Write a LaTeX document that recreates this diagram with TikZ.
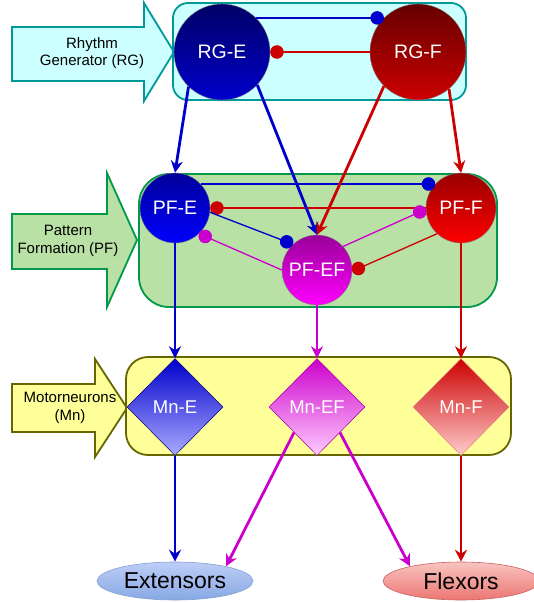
\documentclass[tikz,border=0pt]{standalone}
\usepackage{fontspec}
\setmainfont{Liberation Sans}
\usepackage{tikz}
\usetikzlibrary{shapes.geometric,arrows.meta}
\definecolor{eblue}{RGB}{0,0,204}
\definecolor{fred}{RGB}{204,0,0}
\definecolor{efmag}{RGB}{204,0,204}
\definecolor{rgfill}{RGB}{204,255,255}
\definecolor{rgline}{RGB}{0,153,153}
\definecolor{pffill}{RGB}{185,224,165}
\definecolor{pfline}{RGB}{0,153,76}
\definecolor{mnfill}{RGB}{255,255,153}
\definecolor{mnline}{RGB}{102,102,0}

\begin{document}
\begin{tikzpicture}[x=1pt,y=-1pt,
  cell/.style={circle,draw=black!50,line width=0.4pt,text=white,inner sep=0pt,
    font=\fontsize{19.5}{22}\selectfont},
  mn/.style={diamond,aspect=1,minimum width=96pt,minimum height=97pt,inner sep=0pt,
    line width=0.5pt,text=white,font=\fontsize{18.5}{21}\selectfont},
  musc/.style={ellipse,minimum width=156pt,minimum height=38pt,inner sep=0pt,
    line width=0.6pt,font=\fontsize{23}{26}\selectfont},
  exc/.style={line width=2.8pt,-{Stealth[length=12pt,width=12pt,inset=4pt]}},
  inh/.style={line width=1.3pt,-{Circle[length=13.5pt]}},
  lbl/.style={align=center,font=\fontsize{15}{17.5}\selectfont}]
\useasboundingbox (0,0) rectangle (533,602);

% layers
\draw[line width=1.8pt,draw=rgline,fill=rgfill] (12,27) -- (144,27) -- (144,3) -- (174,52)
  -- (144,101) -- (144,81) -- (12,81) -- cycle;
\draw[line width=1.8pt,draw=rgline,fill=rgfill,rounded corners=15pt] (173,3) rectangle (466,100);
\draw[line width=1.8pt,draw=pfline,fill=pffill] (12,214) -- (107,214) -- (107,173) -- (137,240)
  -- (107,307) -- (107,269) -- (12,269) -- cycle;
\draw[line width=1.8pt,draw=pfline,fill=pffill,rounded corners=30pt] (139,174) rectangle (497,307);
\draw[line width=1.8pt,draw=mnline,fill=mnfill] (12,384) -- (95,384) -- (95,359) -- (127,408)
  -- (95,457) -- (95,432) -- (12,432) -- cycle;
\draw[line width=1.8pt,draw=mnline,fill=mnfill,rounded corners=22pt] (126,357) rectangle (511,455);
\node[lbl] (rglbl) at (92,53) {Rhythm\\Generator (RG)};
\node[lbl] (pflbl) at (68,241) {Pattern\\Formation (PF)};
\node[lbl] (mnlbl) at (70,408) {Motorneurons\\(Mn)};

% neurons
\node[cell,minimum size=96pt,top color={rgb,255:red,0;green,0;blue,102},bottom color=eblue] (rge) at (222,52) {RG-E};
\node[cell,minimum size=96pt,top color={rgb,255:red,102;green,0;blue,0},bottom color=fred] (rgf) at (418,52) {RG-F};
\node[cell,minimum size=70pt,top color={rgb,255:red,0;green,0;blue,153},bottom color=blue] (pfe) at (175,208) {PF-E};
\node[cell,minimum size=70pt,top color={rgb,255:red,153;green,0;blue,0},bottom color=red] (pff) at (461,208) {PF-F};
\node[cell,minimum size=70pt,top color={rgb,255:red,153;green,0;blue,153},bottom color=magenta] (pfef) at (317,270) {PF-EF};
\node[mn,draw=eblue!60!black,top color=eblue,bottom color={rgb,255:red,170;green,170;blue,255}] (mne) at (175,407) {Mn-E};
\node[mn,draw=efmag!80!black,top color=efmag,bottom color={rgb,255:red,255;green,204;blue,255}] (mnef) at (317,407) {Mn-EF};
\node[mn,draw=fred!50!white,top color=fred,bottom color={rgb,255:red,255;green,204;blue,204}] (mnf) at (461,407) {Mn-F};
\node[musc,draw={rgb,255:red,130;green,160;blue,210},top color={rgb,255:red,190;green,206;blue,246},bottom color={rgb,255:red,135;green,168;blue,228}] (ext) at (175,581) {Extensors};
\node[musc,draw={rgb,255:red,200;green,100;blue,96},top color={rgb,255:red,248;green,196;blue,193},bottom color={rgb,255:red,236;green,118;blue,114}] (flx) at (461,581) {Flexors};

% inhibition
\draw[inh,eblue] (rge.45) -- (rgf.135);
\draw[inh,fred] (rgf.west) -- (rge.east);
\draw[inh,eblue] (pfe.43) -- (pff.137);
\draw[inh,fred] (pff.west) -- (pfe.east);
\draw[inh,efmag] (pfef.42) -- (pff.182);
\draw[inh,efmag] (pfef.west) -- (pfe.313);
\draw[inh,eblue] (pfe.353) -- (pfef.133);
\draw[inh,fred] (pff.227) -- (pfef.358);

% excitation
\draw[exc,eblue] (rge.226) -- (pfe.north);
\draw[exc,eblue] (rge.317) -- (pfef.north);
\draw[exc,fred] (rgf.225) -- (pfef.north);
\draw[exc,fred] (rgf.310) -- (pff.north);
\draw[exc,eblue] (pfe.south) -- (mne.north);
\draw[exc,efmag] (pfef.south) -- (mnef.north);
\draw[exc,fred] (pff.south) -- (mnf.north);
\draw[exc,eblue] (mne.south) -- (ext.north);
\draw[exc,efmag] (mnef.228) -- (ext.16);
\draw[exc,efmag] (mnef.312) -- (flx.164);
\draw[exc,fred] (mnf.south) -- (flx.north);
\end{tikzpicture}
\end{document}
